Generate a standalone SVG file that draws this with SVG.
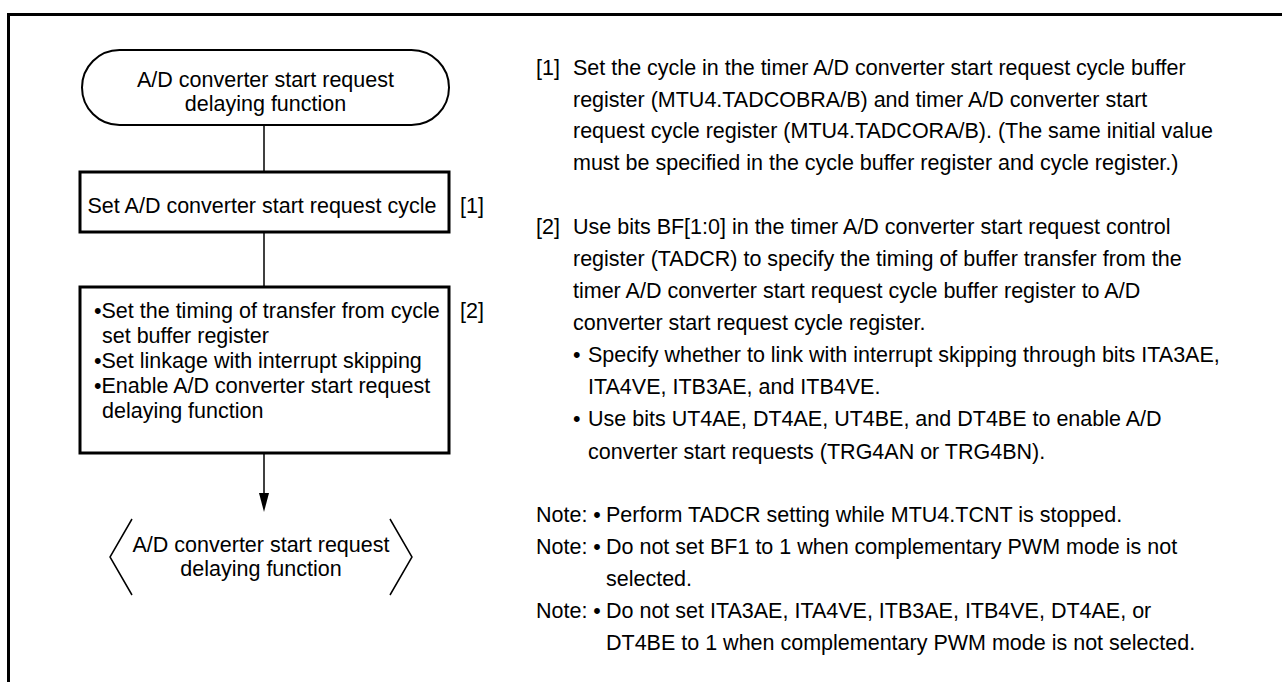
<svg xmlns="http://www.w3.org/2000/svg" width="1282" height="682" viewBox="0 0 1282 682">
<style>
text{font-family:"Liberation Sans",Arial,sans-serif;font-size:21.5px;fill:#000}
.c{text-anchor:middle}
.box{fill:#fff;stroke:#000;stroke-width:3}
.ln{stroke:#000;stroke-width:1.5;fill:none}
.frame{stroke:#000;stroke-width:3;fill:none}
</style>
<path class="frame" d="M8.5,682 V14.5 H1282"/>
<g id="connectors">
<line class="ln" x1="264" y1="125" x2="264" y2="172"/>
<line class="ln" x1="264" y1="232" x2="264" y2="287"/>
<line class="ln" x1="264" y1="454" x2="264" y2="493"/>
<path d="M259,493 L269,493 L264,512 Z" fill="#000"/>
</g>
<g id="start">
<rect x="82" y="50" width="367" height="75" rx="37.5" ry="37.5" fill="#fff" stroke="#000" stroke-width="2"/>
<text class="c" x="265.5" y="87">A/D converter start request</text>
<text class="c" x="265.5" y="111">delaying function</text>
</g>
<g id="step1">
<rect class="box" x="80" y="172" width="369" height="60"/>
<text class="c" x="262" y="213">Set A/D converter start request cycle</text>
<text x="460" y="213">[1]</text>
</g>
<g id="step2">
<rect class="box" x="80" y="287" width="369" height="166"/>
<text x="94" y="318">•Set the timing of transfer from cycle</text>
<text x="102" y="343">set buffer register</text>
<text x="94" y="368">•Set linkage with interrupt skipping</text>
<text x="94" y="393">•Enable A/D converter start request</text>
<text x="102" y="418">delaying function</text>
<text x="460" y="318">[2]</text>
</g>
<g id="end">
<polyline class="ln" points="132,519 110,557 132,595"/>
<polyline class="ln" points="390,519 412,557 390,595"/>
<text class="c" x="261" y="552">A/D converter start request</text>
<text class="c" x="261" y="576">delaying function</text>
</g>
<g id="notes">
<text x="536" y="75">[1]</text>
<text x="573" y="75">Set the cycle in the timer A/D converter start request cycle buffer</text>
<text x="573" y="107">register (MTU4.TADCOBRA/B) and timer A/D converter start</text>
<text x="573" y="138">request cycle register (MTU4.TADCORA/B). (The same initial value</text>
<text x="573" y="170">must be specified in the cycle buffer register and cycle register.)</text>
<text x="536" y="234">[2]</text>
<text x="573" y="234">Use bits BF[1:0] in the timer A/D converter start request control</text>
<text x="573" y="266">register (TADCR) to specify the timing of buffer transfer from the</text>
<text x="573" y="298">timer A/D converter start request cycle buffer register to A/D</text>
<text x="573" y="330">converter start request cycle register.</text>
<text x="573" y="362">•</text>
<text x="588" y="362">Specify whether to link with interrupt skipping through bits ITA3AE,</text>
<text x="588" y="394">ITA4VE, ITB3AE, and ITB4VE.</text>
<text x="573" y="426">•</text>
<text x="588" y="426">Use bits UT4AE, DT4AE, UT4BE, and DT4BE to enable A/D</text>
<text x="588" y="459">converter start requests (TRG4AN or TRG4BN).</text>
<text x="536" y="522">Note: •</text>
<text x="606" y="522">Perform TADCR setting while MTU4.TCNT is stopped.</text>
<text x="536" y="554">Note: •</text>
<text x="606" y="554">Do not set BF1 to 1 when complementary PWM mode is not</text>
<text x="606" y="586">selected.</text>
<text x="536" y="618">Note: •</text>
<text x="606" y="618">Do not set ITA3AE, ITA4VE, ITB3AE, ITB4VE, DT4AE, or</text>
<text x="606" y="650">DT4BE to 1 when complementary PWM mode is not selected.</text>
</g>
</svg>
